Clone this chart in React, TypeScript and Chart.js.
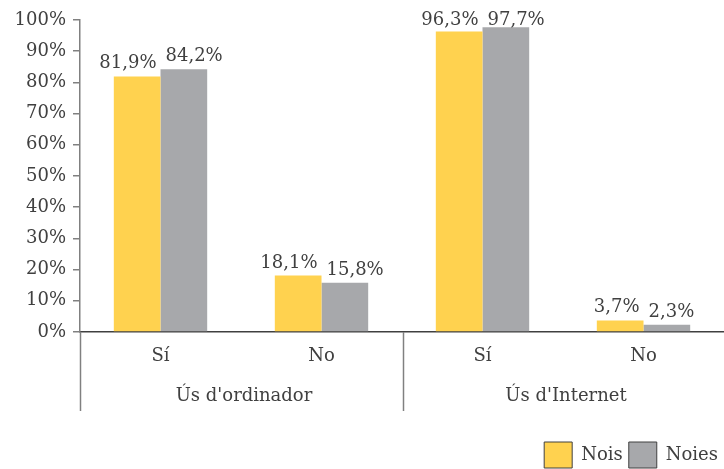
import React, { useEffect, useRef } from "react";
import { Chart, registerables } from "chart.js";

Chart.register(...registerables);

const categories = ["Sí", "No", "Sí", "No"];
const groups = ["Ús d'ordinador", "Ús d'Internet"];
const seriesNames = ["Nois", "Noies"];
const nois = [81.9, 18.1, 96.3, 3.7];
const noies = [84.2, 15.8, 97.7, 2.3];
const yTicks = [0, 10, 20, 30, 40, 50, 60, 70, 80, 90, 100];

const FONT = "'DejaVu Serif', serif";
const TEXT = "#404040";
const SIZE = 18;

const fmt = (v: number) => v.toFixed(1).replace(".", ",") + "%";

const labelsPlugin = {
  id: "extras",
  afterLayout(chart: any) {
    const lg = chart.legend;
    if (lg) {
      lg.top += 9;
      lg.bottom += 9;
    }
  },
  afterDatasetsDraw(chart: any) {
    const ctx = chart.ctx;
    ctx.save();
    ctx.font = `${SIZE}px ${FONT}`;
    ctx.fillStyle = TEXT;
    ctx.textBaseline = "alphabetic";
    chart.data.datasets.forEach((ds: any, di: number) => {
      const meta = chart.getDatasetMeta(di);
      meta.data.forEach((bar: any, i: number) => {
        const half = bar.width / 2;
        const y = Math.max(bar.y - 8, 25);
        if (di === 0) {
          ctx.textAlign = "right";
          ctx.fillText(fmt(ds.data[i]), bar.x + half - 4, y);
        } else {
          ctx.textAlign = "left";
          ctx.fillText(fmt(ds.data[i]), bar.x - half + 5, y);
        }
      });
    });
    ctx.restore();
  },
  afterDraw(chart: any) {
    const ctx = chart.ctx;
    const x = chart.scales.x;
    const area = chart.chartArea;
    const bottom = area.bottom + 79;
    ctx.save();
    ctx.strokeStyle = "#808080";
    ctx.lineWidth = 1.5;
    const left = area.left;
    const mid = (x.getPixelForValue(1) + x.getPixelForValue(2)) / 2 + 1;
    [left, mid].forEach((px) => {
      ctx.beginPath();
      ctx.moveTo(Math.round(px) + 0.5, area.bottom);
      ctx.lineTo(Math.round(px) + 0.5, bottom);
      ctx.stroke();
    });
    ctx.font = `${SIZE}px ${FONT}`;
    ctx.fillStyle = TEXT;
    ctx.textAlign = "center";
    ctx.textBaseline = "middle";
    groups.forEach((g, gi) => {
      const a = x.getPixelForValue(gi * 2);
      const b = x.getPixelForValue(gi * 2 + 1);
      ctx.fillText(g, (a + b) / 2 + 3, area.bottom + 64);
    });
    ctx.restore();
  },
};

export default function App() {
  const ref = useRef<HTMLCanvasElement>(null);
  useEffect(() => {
    const chart = new Chart(ref.current as HTMLCanvasElement, {
      type: "bar",
      data: {
        labels: categories,
        datasets: [
          { label: seriesNames[0], data: nois, backgroundColor: "#FFD24F" },
          { label: seriesNames[1], data: noies, backgroundColor: "#A7A8AB" },
        ],
      },
      options: {
        animation: false,
        responsive: false,
        layout: { padding: { top: 20, right: 0, bottom: 0, left: 0 } },
        datasets: { bar: { barPercentage: 1, categoryPercentage: 0.58 } } as any,
        plugins: {
          tooltip: { enabled: false },
          legend: {
            position: "bottom",
            align: "end",
            labels: {
              color: TEXT,
              font: { family: FONT, size: SIZE },
              boxWidth: 28,
              boxHeight: 26,
              padding: 6,
              generateLabels(chart: any) {
                const items = Chart.defaults.plugins.legend.labels.generateLabels(chart);
                return items.map((it: any) => ({ ...it, strokeStyle: "#404040", lineWidth: 1 }));
              },
            },
          },
        },
        scales: {
          x: {
            grid: { display: false },
            border: { display: true, color: "#404040", width: 1.5 },
            ticks: { color: TEXT, font: { family: FONT, size: SIZE }, padding: 6 },
            afterFit(scale: any) {
              scale.height = 95;
            },
          },
          y: {
            min: 0,
            max: 100,
            afterBuildTicks(scale: any) {
              scale.ticks = yTicks.map((v) => ({ value: v }));
            },
            grid: { display: true, drawOnChartArea: false, tickLength: 7, color: "#808080", lineWidth: 1.5 },
            border: { display: true, color: "#808080", width: 1.5 },
            ticks: {
              color: TEXT,
              font: { family: FONT, size: SIZE },
              padding: 7,
              callback: (v: any) => v + "%",
            },
            afterFit(scale: any) {
              scale.width = 80;
            },
          },
        },
      },
      plugins: [labelsPlugin],
    });
    return () => chart.destroy();
  }, []);
  return (
    <div style={{ position: "fixed", left: 0, top: 0, width: 724, height: 469, background: "#fff" }}>
      <canvas ref={ref} width={724} height={469} />
    </div>
  );
}
